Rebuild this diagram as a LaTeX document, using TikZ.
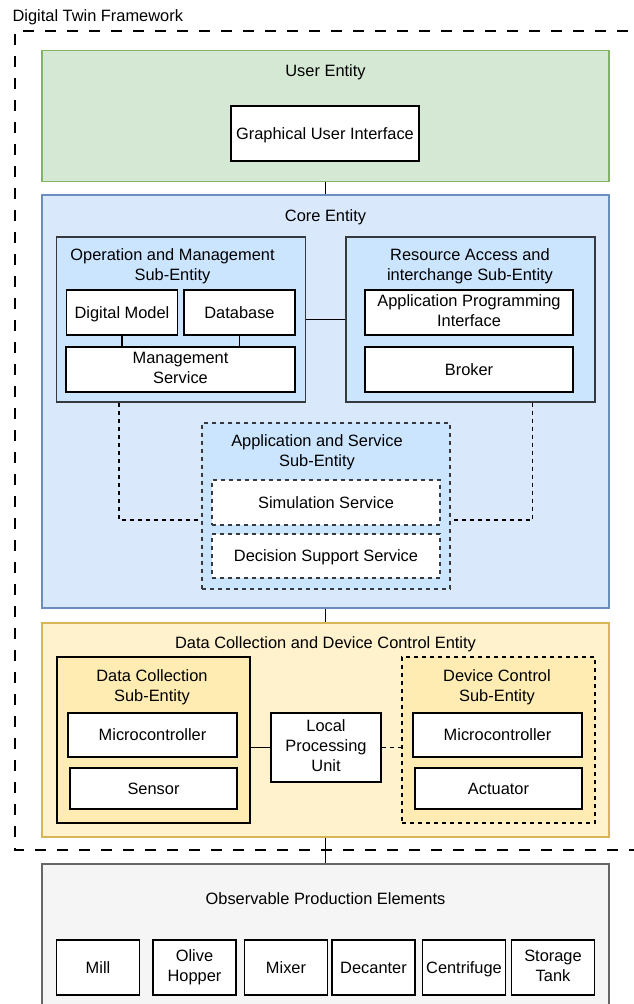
\documentclass[tikz,border=0pt]{standalone}
\usepackage{fontspec}
\setmainfont{Liberation Sans}
\usepackage{tikz}
\usetikzlibrary{positioning}
\definecolor{usergreen}{HTML}{D5E8D4}
\definecolor{usergreenline}{HTML}{82B366}
\definecolor{coreblue}{HTML}{DAE8FC}
\definecolor{coreblueline}{HTML}{6C8EBF}
\definecolor{subblue}{HTML}{CCE5FF}
\definecolor{subline}{HTML}{36393D}
\definecolor{dcyellow}{HTML}{FFF2CC}
\definecolor{dcyellowline}{HTML}{D6B656}
\definecolor{subyellow}{HTML}{FFECB3}
\definecolor{opegray}{HTML}{F5F5F5}
\definecolor{opegrayline}{HTML}{666666}

\begin{document}
\begin{tikzpicture}[x=1pt, y=-1pt, line width=1.2pt,
    every node/.style={font=\fontsize{16.4}{20}\selectfont, inner sep=0pt, align=center,
      execute at begin node={\rule{0pt}{14.9pt}}, execute at end node={\rule[-3.1pt]{0pt}{3.1pt}}},
    entity/.style={draw, rectangle},
    subentity/.style={draw=subline, rectangle},
    item/.style={draw=black, fill=white, rectangle},
    shortdash/.style={dash pattern=on 4pt off 4pt},
    longdash/.style={dash pattern=on 11pt off 11pt}]
    \useasboundingbox (0,0) rectangle (634,1004);
    \clip (0,0) rectangle (634,1004);

    % Framework border
    \node[anchor=west] (dtf) at (12,16) {Digital Twin Framework};
    \draw[longdash] (650,31) -- (15,31) -- (15,850) -- (650,850);

    % User entity
    \node[entity, fill=usergreen, draw=usergreenline, minimum width=567pt, minimum height=131pt] (user) at (325.5,116) {};
    \node (usertitle) at (325.5,71) {User Entity};
    \node[item, minimum width=188pt, minimum height=55pt] (gui) at (325,133.5) {Graphical User Interface};

    % Core entity
    \node[entity, fill=coreblue, draw=coreblueline, minimum width=567pt, minimum height=413pt] (core) at (325.5,401.5) {};
    \node (coretitle) at (325.5,216) {Core Entity};

    \node[subentity, fill=subblue, minimum width=249pt, minimum height=165pt] (opsub) at (181,319.5) {};
    \node (optitle) at (172.5,266) {Operation and Management\\Sub-Entity};
    \node[item, minimum width=111pt, minimum height=45pt] (dmodel) at (122,312.5) {Digital Model};
    \node[item, minimum width=111pt, minimum height=45pt] (db) at (239.5,312.5) {Database};
    \node[item, minimum width=229pt, minimum height=45pt] (mgmt) at (180.5,369.5) {Management\\Service};

    \node[subentity, fill=subblue, minimum width=249pt, minimum height=165pt] (rasub) at (470.5,319.5) {};
    \node (ratitle) at (470,266) {Resource Access and\\interchange Sub-Entity};
    \node[item, minimum width=208pt, minimum height=45pt] (api) at (469,312.5) {Application Programming\\Interface};
    \node[item, minimum width=208pt, minimum height=45pt] (broker) at (469,369.5) {Broker};

    \node[subentity, shortdash, fill=subblue, minimum width=248pt, minimum height=166pt] (appsub) at (326,506) {};
    \node (apptitle) at (317,452) {Application and Service\\Sub-Entity};
    \node[item, shortdash, draw=subline, minimum width=228pt, minimum height=45pt] (sim) at (326,502.5) {Simulation Service};
    \node[item, shortdash, draw=subline, minimum width=228pt, minimum height=44pt] (dss) at (326,556) {Decision Support Service};

    % Data collection and device control entity
    \node[entity, fill=dcyellow, draw=dcyellowline, minimum width=567pt, minimum height=214pt] (dcdc) at (325.5,730) {};
    \node (dctitle) at (325.5,643) {Data Collection and Device Control Entity};

    \node[subentity, fill=subyellow, draw=black, minimum width=193pt, minimum height=166pt] (dcsub) at (153.5,740) {};
    \node (dcsubtitle) at (152,687) {Data Collection\\Sub-Entity};
    \node[item, minimum width=169pt, minimum height=44pt] (mcu1) at (152.5,735) {Microcontroller};
    \node[item, minimum width=167pt, minimum height=41pt] (sensor) at (153.5,788.5) {Sensor};

    \node[item, minimum width=110pt, minimum height=69pt] (lpu) at (326,747.5) {Local\\Processing\\Unit};

    \node[subentity, shortdash, fill=subyellow, draw=black, minimum width=193pt, minimum height=166pt] (devsub) at (498.5,740) {};
    \node (devtitle) at (497,687) {Device Control\\Sub-Entity};
    \node[item, minimum width=169pt, minimum height=44pt] (mcu2) at (497.5,735) {Microcontroller};
    \node[item, minimum width=167pt, minimum height=41pt] (actuator) at (498.5,788.5) {Actuator};

    % Observable production elements
    \node[entity, fill=opegray, draw=opegrayline, minimum width=567pt, minimum height=160pt] (ope) at (325.5,944) {};
    \node (opetitle) at (325.5,899) {Observable Production Elements};
    \node[item, minimum width=83pt, minimum height=55pt] (mill) at (98,967.5) {Mill};
    \node[item, minimum width=83pt, minimum height=55pt] (hopper) at (194.5,967.5) {Olive\\Hopper};
    \node[item, minimum width=83pt, minimum height=55pt] (mixer) at (286,967.5) {Mixer};
    \node[item, minimum width=83pt, minimum height=55pt] (decanter) at (373.5,967.5) {Decanter};
    \node[item, minimum width=83pt, minimum height=55pt] (centrifuge) at (464,967.5) {Centrifuge};
    \node[item, minimum width=83pt, minimum height=55pt] (tank) at (553,967.5) {Storage\\Tank};

    % Connections
    \draw (user) -- (core);
    \draw (dmodel.south) -- (dmodel.south |- mgmt.north);
    \draw (db.south) -- (db.south |- mgmt.north);
    \draw (opsub) -- (rasub);
    \draw[shortdash] ([xshift=-62pt]opsub.south) |- ([yshift=-14pt]appsub.west);
    \draw[shortdash] ([xshift=62pt]rasub.south) |- ([yshift=-14pt]appsub.east);
    \draw (core) -- (dcdc);
    \draw (lpu.west) -- (lpu.west -| dcsub.east);
    \draw[shortdash] (lpu.east) -- (lpu.east -| devsub.west);
    \draw (dcdc) -- (ope);
\end{tikzpicture}
\end{document}
